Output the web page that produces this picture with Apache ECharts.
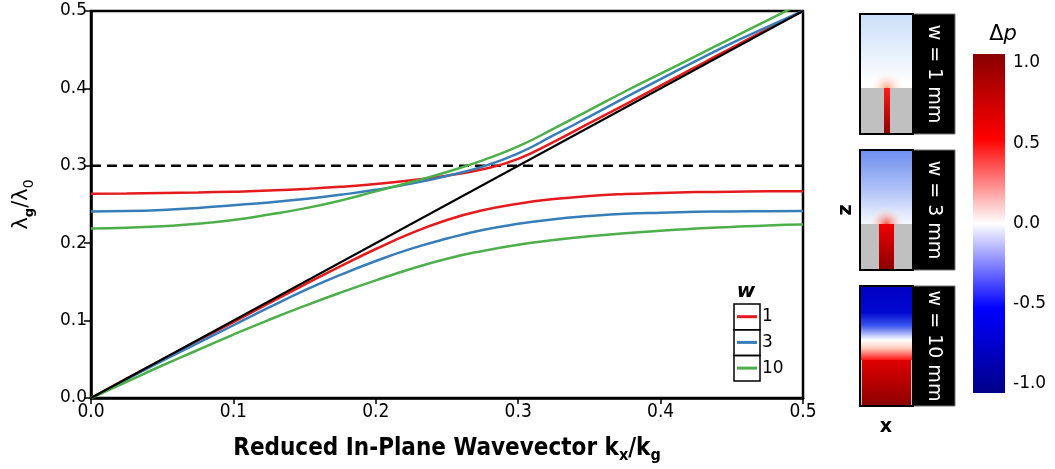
<!DOCTYPE html>
<html>
<head>
<meta charset="utf-8">
<script src="https://cdn.jsdelivr.net/npm/echarts@6/dist/echarts.min.js"></script>
<style>html,body{margin:0;padding:0;background:#fff;}#c{width:1055px;height:469px;}</style>
</head>
<body>
<div id="c"></div>
<script>
// ---- data ----
const kx = [0, 0.025, 0.05, 0.075, 0.1, 0.125, 0.15, 0.175, 0.2, 0.225, 0.25, 0.275, 0.3, 0.325, 0.35, 0.375, 0.4, 0.425, 0.45, 0.475, 0.5];
const upperW1  = [0.264, 0.2642, 0.2647, 0.2655, 0.2666, 0.268, 0.270, 0.2728, 0.2765, 0.2812, 0.2872, 0.2955, 0.309, 0.331, 0.355, 0.379, 0.4035, 0.428, 0.4525, 0.4765, 0.500];
const upperW3  = [0.241, 0.2415, 0.243, 0.2455, 0.249, 0.2527, 0.257, 0.2625, 0.269, 0.277, 0.287, 0.299, 0.316, 0.3395, 0.3635, 0.388, 0.412, 0.4355, 0.4585, 0.4795, 0.500];
const upperW10 = [0.219, 0.220, 0.222, 0.225, 0.230, 0.237, 0.245, 0.255, 0.267, 0.279, 0.292, 0.307, 0.325, 0.348, 0.372, 0.396, 0.419, 0.442, 0.465, 0.488, 0.511];
const lowerW1  = [0, 0.025, 0.0495, 0.074, 0.098, 0.1225, 0.1465, 0.170, 0.1925, 0.213, 0.230, 0.2425, 0.251, 0.257, 0.261, 0.2635, 0.265, 0.266, 0.2665, 0.267, 0.267];
const lowerW3  = [0, 0.024, 0.048, 0.071, 0.094, 0.117, 0.139, 0.159, 0.177, 0.193, 0.206, 0.217, 0.225, 0.231, 0.235, 0.238, 0.2395, 0.2405, 0.241, 0.2413, 0.2415];
const lowerW10 = [0, 0.021, 0.042, 0.062, 0.082, 0.101, 0.119, 0.136, 0.152, 0.167, 0.180, 0.190, 0.198, 0.204, 0.209, 0.213, 0.216, 0.219, 0.221, 0.223, 0.224];
const lightLineX = [0, 0.5];
const lightLineY = [0, 0.5];
const cutoffY = 0.3;
const wNames = ['1', '3', '10'];
const panelLabels = ['w = 1 mm', 'w = 3 mm', 'w = 10 mm'];
const cbarTicks = [-1, -0.5, 0, 0.5, 1];

const colors = ['#e41a1c', '#377eb8', '#4daf4a'];
const pairs = (xs, ys) => xs.map((x, i) => [x, ys[i]]);

const curveSeries = [];
[[upperW1, lowerW1], [upperW3, lowerW3], [upperW10, lowerW10]].forEach((pr, i) => {
  pr.forEach(arr => curveSeries.push({
    name: wNames[i], type: 'line', xAxisIndex: 0, yAxisIndex: 0,
    data: pairs(kx, arr), smooth: 0.5, showSymbol: false, symbol: 'none',
    lineStyle: { color: colors[i], width: 2.5 }, itemStyle: { color: colors[i] },
    clip: true, z: 2
  }));
});

const chart = echarts.init(document.getElementById('c'), null, { renderer: 'canvas' });

const tickFmt = v => v.toFixed(1);

// panel geometry (decoration)
const PX = 860, PW = 53, LX = 913, LW = 42;
const panels = [
  { y: 14, gy: 88, slit: [884, 6],
    field: [[0, '#cbdff9'], [0.35, '#e9f1fd'], [0.58, '#ffffff'], [0.8, '#fef0e6'], [1, '#fddfcb']],
    glow: ['rgba(250,160,120,0.9)', 17], slitCol: ['#ff1a1a', '#8e0000'] },
  { y: 150, gy: 224, slit: [879, 15],
    field: [[0, '#6e8ef0'], [0.3, '#a9bdf6'], [0.6, '#f1f5fe'], [0.75, '#ffffff'], [1, '#fcd3bd']],
    glow: ['rgba(245,80,60,0.95)', 18], slitCol: ['#f00000', '#8b0000'] },
  { y: 286, gy: 360, slit: [862, 49],
    field: [[0, '#0000c4'], [0.22, '#0008d0'], [0.33, '#3a55ee'], [0.45, '#ffffff'], [0.52, '#ffc8b8'], [0.62, '#ff1010'], [0.8, '#d00000'], [1, '#8b0000']],
    glow: null, slitCol: ['#e00000', '#8b0000'] }
];
const graphics = [];
panels.forEach((p, i) => {
  const H = 120;
  graphics.push({ type: 'rect', shape: { x: PX, y: p.y, width: PW, height: H }, style: {
    fill: new echarts.graphic.LinearGradient(0, 0, 0, 1, p.field.map(s => ({ offset: s[0], color: s[1] }))) }, z: 10 });
  if (p.glow) {
    graphics.push({ type: 'circle', shape: { cx: p.slit[0] + p.slit[1] / 2, cy: p.gy, r: p.glow[1] }, style: {
      fill: new echarts.graphic.RadialGradient(0.5, 0.5, 0.5, [{ offset: 0, color: p.glow[0] }, { offset: 1, color: 'rgba(255,255,255,0)' }]) }, z: 11 });
  }
  graphics.push({ type: 'rect', shape: { x: PX, y: p.gy, width: PW, height: p.y + H - p.gy }, style: { fill: '#c0c0c0' }, z: 12 });
  graphics.push({ type: 'rect', shape: { x: p.slit[0], y: p.gy, width: p.slit[1], height: p.y + H - p.gy }, style: {
    fill: new echarts.graphic.LinearGradient(0, 0, 0, 1, [{ offset: 0, color: p.slitCol[0] }, { offset: 1, color: p.slitCol[1] }]) }, z: 13 });
  graphics.push({ type: 'rect', shape: { x: PX, y: p.y, width: PW, height: H }, style: { fill: 'none', stroke: '#000', lineWidth: 2 }, z: 14 });
  graphics.push({ type: 'rect', shape: { x: LX, y: p.y, width: LW, height: H }, style: { fill: '#000', stroke: '#777', lineWidth: 1 }, z: 10 });
  graphics.push({ type: 'text', x: LX + LW / 2, y: p.y + H / 2, rotation: -Math.PI / 2, style: {
    text: panelLabels[i], fill: '#fff', font: '19px "DejaVu Sans"', textAlign: 'center', textVerticalAlign: 'middle' }, z: 15 });
});
graphics.push({ type: 'text', x: 846, y: 210, rotation: Math.PI / 2, style: { text: 'z', fill: '#000', font: 'bold 19px "DejaVu Sans"', textAlign: 'center', textVerticalAlign: 'middle' }, z: 15 });
graphics.push({ type: 'text', x: 886, y: 427, style: { text: 'x', fill: '#000', font: 'bold 19px "DejaVu Sans"', textAlign: 'center', textVerticalAlign: 'middle' }, z: 15 });
// colorbar
graphics.push({ type: 'rect', shape: { x: 973, y: 54, width: 32, height: 339 }, style: {
  fill: new echarts.graphic.LinearGradient(0, 0, 0, 1, [
    { offset: 0, color: '#880000' }, { offset: 0.25, color: '#ff0000' }, { offset: 0.5, color: '#ffffff' },
    { offset: 0.75, color: '#0000ff' }, { offset: 1, color: '#000088' }]) }, z: 1 });
graphics.push({ type: 'text', x: 1003, y: 35, style: {
  text: '{d|Δ}{p|p}', textAlign: 'center', textVerticalAlign: 'middle',
  rich: { d: { font: '21px "DejaVu Sans"', fill: '#000' }, p: { font: 'italic 21px "DejaVu Sans"', fill: '#000' } } }, z: 15 });
// legend title + boxes
graphics.push({ type: 'text', x: 746, y: 292, style: { text: 'w', fill: '#000', font: 'italic bold 20px "DejaVu Sans"', textAlign: 'center', textVerticalAlign: 'middle' }, z: 15 });
[0, 1, 2].forEach(i => graphics.push({ type: 'rect', shape: { x: 734, y: 304 + i * 25.7, width: 26, height: 25.7 }, style: { fill: 'none', stroke: '#000', lineWidth: 1.5 }, z: 15 }));

chart.setOption({
  animation: false,
  backgroundColor: '#fff',
  grid: [
    { left: 88, top: 11, width: 715, height: 388, show: true, borderColor: '#000', borderWidth: 2.5, backgroundColor: 'transparent' },
    { left: 973, top: 54, width: 32, height: 339, show: false }
  ],
  xAxis: [
    { gridIndex: 0, type: 'value', min: 0, max: 0.5, interval: 0.1,
      axisLine: { onZero: false, lineStyle: { color: '#000', width: 2.5 } },
      axisTick: { length: 6, lineStyle: { color: '#000', width: 1.5 } },
      axisLabel: { fontFamily: '"DejaVu Sans Condensed", "DejaVu Sans"', fontSize: 19, color: '#000', margin: 5, formatter: tickFmt },
      splitLine: { show: false },
      name: 'Reduced In-Plane Wavevector k{s|x}/k{s|g}', nameLocation: 'middle', nameGap: 36,
      nameTextStyle: { fontFamily: '"DejaVu Sans Condensed", "DejaVu Sans"', fontWeight: 'bold', fontSize: 24, color: '#000', lineHeight: 30,
        rich: { s: { fontFamily: '"DejaVu Sans Condensed", "DejaVu Sans"', fontWeight: 'bold', fontSize: 16, color: '#000', lineHeight: 14, verticalAlign: 'bottom' } } } },
    { gridIndex: 1, type: 'value', min: 0, max: 1, show: false }
  ],
  yAxis: [
    { gridIndex: 0, type: 'value', min: 0, max: 0.5, interval: 0.1,
      axisLine: { onZero: false, lineStyle: { color: '#000', width: 2.5 } },
      axisTick: { length: 7, lineStyle: { color: '#000', width: 1.5 } },
      axisLabel: { fontFamily: '"DejaVu Sans"', fontSize: 17, color: '#000', margin: 4, formatter: tickFmt },
      splitLine: { show: false },
      name: 'λ{s|g}/λ{z|0}', nameLocation: 'middle', nameGap: 55, nameRotate: 90,
      nameTextStyle: { fontFamily: '"DejaVu Sans"', fontSize: 21, color: '#000', lineHeight: 28,
        rich: { s: { fontFamily: '"DejaVu Sans"', fontWeight: 'bold', fontSize: 13, color: '#000', lineHeight: 14, verticalAlign: 'bottom' },
                z: { fontFamily: '"DejaVu Sans"', fontSize: 14, color: '#000', lineHeight: 14, verticalAlign: 'bottom' } } } },
    { gridIndex: 1, type: 'value', position: 'right', min: -1.056, max: 1.056,
      axisLine: { show: false },
      axisTick: { inside: true, length: 6, customValues: cbarTicks, lineStyle: { color: '#fff', width: 1 } },
      axisLabel: { customValues: cbarTicks, formatter: tickFmt, fontFamily: '"DejaVu Sans"', fontSize: 17, color: '#000', margin: 8 },
      splitLine: { show: false } },
    { gridIndex: 1, type: 'value', position: 'left', min: -1.056, max: 1.056,
      axisLine: { show: false },
      axisTick: { inside: true, length: 6, customValues: cbarTicks, lineStyle: { color: '#fff', width: 1 } },
      axisLabel: { show: false }, splitLine: { show: false } }
  ],
  legend: {
    data: wNames, orient: 'vertical', left: 737, top: 306.7, icon: 'rect', itemWidth: 20, itemHeight: 3, itemGap: 5.7, padding: 0,
    textStyle: { fontFamily: '"DejaVu Sans"', fontSize: 17, color: '#000', lineHeight: 20 }, selectedMode: false
  },
  series: [
    { name: 'light', type: 'line', xAxisIndex: 0, yAxisIndex: 0, data: pairs(lightLineX, lightLineY), showSymbol: false, symbol: 'none',
      lineStyle: { color: '#000', width: 2 }, z: 4 },
    { name: 'cut', type: 'line', xAxisIndex: 0, yAxisIndex: 0, data: [[0, cutoffY], [0.5, cutoffY]], showSymbol: false, symbol: 'none',
      lineStyle: { color: '#000', width: 2.5, type: [10, 6] }, z: 1 },
    ...curveSeries,
    { name: 'cb', type: 'scatter', xAxisIndex: 1, yAxisIndex: 1, data: [] }
  ],
  graphic: graphics
});
</script>
</body>
</html>
